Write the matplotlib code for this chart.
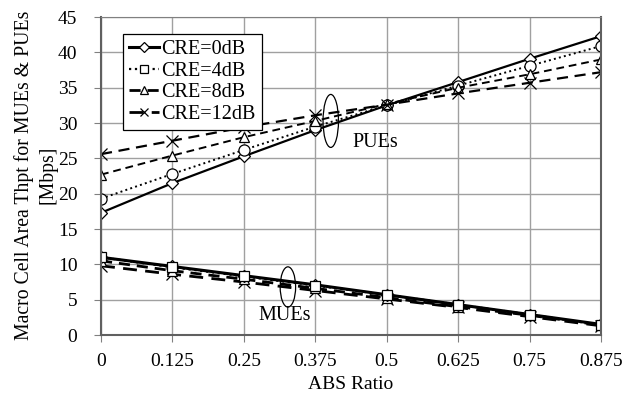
import matplotlib
matplotlib.use("Agg")
from matplotlib import pyplot as plt
from matplotlib.patches import Ellipse

plt.rcParams['font.family'] = ['Liberation Serif', 'DejaVu Serif']

abs_ratio = [0, 0.125, 0.25, 0.375, 0.5, 0.625, 0.75, 0.875]
x_labels = ['0', '0.125', '0.25', '0.375', '0.5', '0.625', '0.75', '0.875']

# PUE throughput [Mbps]
pue_0 = [17.3, 21.5, 25.3, 29.0, 32.5, 35.8, 39.1, 42.3]
pue_4 = [19.3, 22.8, 26.2, 29.5, 32.5, 35.3, 38.1, 40.9]
pue_8 = [22.7, 25.4, 28.0, 30.3, 32.7, 35.0, 36.9, 39.0]
pue_12 = [25.6, 27.5, 29.4, 31.1, 32.6, 34.2, 35.7, 37.2]

# MUE throughput [Mbps]
mue_0 = [11.0, 9.7, 8.4, 7.1, 5.7, 4.3, 2.9, 1.5]
mue_4 = [11.0, 9.6, 8.3, 7.0, 5.7, 4.3, 2.9, 1.4]
mue_8 = [10.5, 9.1, 7.9, 6.6, 5.3, 4.0, 2.8, 1.4]
mue_12 = [9.8, 8.6, 7.5, 6.3, 5.1, 3.9, 2.6, 1.3]

labels = ['CRE=0dB', 'CRE=4dB', 'CRE=8dB', 'CRE=12dB']

fig = plt.figure(figsize=(6.37, 3.94), dpi=100)
ax = fig.add_axes([0.1586, 0.1497, 0.785, 0.807])

mk = dict(markersize=7, markerfacecolor='white', markeredgecolor='black',
          markeredgewidth=0.9, color='black')

# PUE lines
ax.plot(abs_ratio, pue_0, '-', marker='D', lw=1.6, **dict(mk, markersize=6))
ax.plot(abs_ratio, pue_4, ':', marker='o', lw=1.4, **dict(mk, markersize=8))
ax.plot(abs_ratio, pue_8, '--', marker='^', lw=1.4, dashes=(4, 2.5), **mk)
ax.plot(abs_ratio, pue_12, '--', marker='x', lw=1.6, dashes=(5, 3), **dict(mk, markersize=8))

# MUE lines
ax.plot(abs_ratio, mue_12, '--', marker='x', lw=2.0, dashes=(5, 3), label=labels[3],
        **dict(mk, markersize=8))
ax.plot(abs_ratio, mue_8, '--', marker='^', lw=2.0, dashes=(4, 2.5), label=labels[2], **mk)
ax.plot(abs_ratio, mue_0, '-', marker='D', lw=2.2, label=labels[0], **dict(mk, markersize=6))
ax.plot(abs_ratio, mue_4, ':', marker='s', lw=1.6, label=labels[1], **mk)

ax.set_xlim(0, 0.875)
ax.set_ylim(0, 45)
ax.set_xticks(abs_ratio)
ax.set_xticklabels(x_labels)
ax.set_yticks(range(0, 46, 5))
ax.tick_params(labelsize=14, direction='out', length=5, color='#808080')
ax.tick_params(axis='x', pad=8)
ax.tick_params(axis='y', pad=12)
ax.grid(True, color='#a0a0a0', lw=1)
ax.set_axisbelow(True)
for s in ['left', 'bottom', 'right']:
    ax.spines[s].set_color('#606060')
    ax.spines[s].set_linewidth(1.5)
ax.spines['top'].set_color('#808080')

ax.set_xlabel('ABS Ratio', fontsize=14, labelpad=4)
ax.set_ylabel('Macro Cell Area Thpt for MUEs & PUEs\n[Mbps]', fontsize=14.2,
              linespacing=1.35)
ax.yaxis.set_label_coords(-0.087, 0.503)

# annotations
ax.add_patch(Ellipse((0.402, 30.3), 0.027, 7.5, fill=False, ec='black', lw=0.9))
ax.text(0.44, 27.2, 'PUEs', fontsize=14.5, va='center', ha='left')
ax.add_patch(Ellipse((0.327, 6.8), 0.027, 5.7, fill=False, ec='black', lw=0.9))
ax.text(0.322, 2.7, 'MUEs', fontsize=14.5, va='center', ha='center')

h, l = ax.get_legend_handles_labels()
order = [l.index(x) for x in labels]
leg = ax.legend([h[i] for i in order], [l[i] for i in order], loc='upper left',
                bbox_to_anchor=(0.024, 0.978), fontsize=14.5, frameon=True,
                fancybox=False, edgecolor='black', framealpha=1,
                handlelength=1.5, handletextpad=0.1, labelspacing=0.12,
                borderpad=0.3, markerscale=0.8)
leg.get_frame().set_linewidth(0.9)

fig.savefig('out.png', dpi=100)
